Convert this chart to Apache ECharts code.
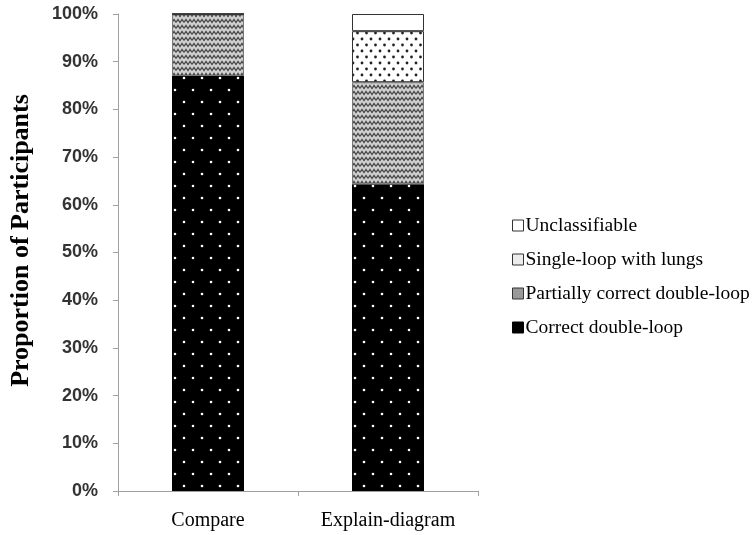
<!DOCTYPE html>
<html>
<head>
<meta charset="utf-8">
<script src="https://cdn.jsdelivr.net/npm/echarts@6/dist/echarts.min.js"></script>
<style>
html,body{margin:0;padding:0;background:#fff;}
#chart{width:756px;height:535px;}
</style>
</head>
<body>
<div id="chart"></div>
<script>
var categories = ['Compare', 'Explain-diagram'];
var seriesNames = ['Correct double-loop', 'Partially correct double-loop', 'Single-loop with lungs', 'Unclassifiable'];
var correctDoubleLoop = [87.0, 64.3];
var partiallyCorrect = [13.0, 21.4];
var singleLoopLungs = [0, 10.7];
var unclassifiable = [0, 3.6];
var legendOrder = ['Unclassifiable', 'Single-loop with lungs', 'Partially correct double-loop', 'Correct double-loop'];
var yTicks = [0, 10, 20, 30, 40, 50, 60, 70, 80, 90, 100];

function makeTile(w, h, draw) {
  var c = document.createElement('canvas');
  c.width = w; c.height = h;
  var ctx = c.getContext('2d');
  draw(ctx, w, h);
  return c;
}
// black with white staggered dots
var dotsWhite = makeTile(18, 24, function (ctx, w, h) {
  ctx.fillStyle = '#000'; ctx.fillRect(0, 0, w, h);
  ctx.fillStyle = '#fff';
  [[4, 6], [13, 18]].forEach(function (p) {
    ctx.beginPath(); ctx.arc(p[0], p[1], 1.3, 0, Math.PI * 2); ctx.fill();
  });
});
// gray herringbone
var zigzag = makeTile(8, 6, function (ctx, w, h) {
  ctx.fillStyle = '#d0d0d0'; ctx.fillRect(0, 0, w, h);
  ctx.strokeStyle = '#4a4a4a'; ctx.lineWidth = 1.3;
  ctx.beginPath();
  ctx.moveTo(0, 4.5); ctx.lineTo(2, 1.5); ctx.lineTo(4, 4.5); ctx.lineTo(6, 1.5); ctx.lineTo(8, 4.5);
  ctx.stroke();
});
// white with dark staggered dots
var dotsBlack = makeTile(9, 12, function (ctx, w, h) {
  ctx.fillStyle = '#fff'; ctx.fillRect(0, 0, w, h);
  ctx.fillStyle = '#222';
  [[2, 3], [6.5, 9]].forEach(function (p) {
    ctx.beginPath(); ctx.arc(p[0], p[1], 1.4, 0, Math.PI * 2); ctx.fill();
  });
});

var chart = echarts.init(document.getElementById('chart'), null, {renderer: 'canvas'});
var serif = '"Liberation Serif", "Times New Roman", serif';
var legendStyles = {
  'Unclassifiable': {color: '#fff', borderColor: '#333', borderWidth: 1},
  'Single-loop with lungs': {color: '#ececec', borderColor: '#333', borderWidth: 1},
  'Partially correct double-loop': {color: '#999', borderColor: '#333', borderWidth: 1},
  'Correct double-loop': {color: '#000', borderColor: '#000', borderWidth: 1}
};
var option = {
  backgroundColor: '#fff',
  animation: false,
  grid: {left: 118, right: 278, top: 14, bottom: 44, containLabel: false},
  legend: {
    orient: 'vertical',
    left: 507,
    top: 209,
    itemWidth: 11,
    itemHeight: 11,
    itemGap: 11,
    icon: 'rect',
    textStyle: {fontFamily: serif, fontSize: 19.5, color: '#000', padding: [0, 0, 0, -3], lineHeight: 23},
    data: legendOrder.map(function (n) { return {name: n, itemStyle: legendStyles[n]}; })
  },
  xAxis: {
    type: 'category',
    data: categories,
    axisLine: {lineStyle: {color: '#a0a0a0', width: 1}},
    axisTick: {show: true, length: 5, lineStyle: {color: '#a0a0a0'}},
    axisLabel: {fontFamily: serif, fontSize: 20, color: '#000', margin: 20}
  },
  yAxis: {
    type: 'value',
    min: yTicks[0],
    max: yTicks[yTicks.length - 1],
    interval: 10,
    name: 'Proportion of Participants',
    nameLocation: 'middle',
    nameRotate: 90,
    nameGap: 84,
    nameTextStyle: {fontFamily: serif, fontWeight: 'bold', fontSize: 26, color: '#000', padding: [0, 0, 0, 24]},
    splitLine: {show: false},
    axisLine: {show: true, lineStyle: {color: '#a0a0a0', width: 1}},
    axisTick: {show: true, length: 5, lineStyle: {color: '#a0a0a0'}},
    axisLabel: {
      formatter: '{value}%',
      fontFamily: '"Liberation Sans", Arial, sans-serif',
      fontWeight: 'bold',
      fontSize: 18,
      color: '#333',
      margin: 20
    }
  },
  series: [
    {
      name: seriesNames[0], type: 'bar', stack: 'total', barWidth: 72, data: correctDoubleLoop,
      itemStyle: {color: {image: dotsWhite, repeat: 'repeat'}, borderColor: '#000', borderWidth: 0}
    },
    {
      name: seriesNames[1], type: 'bar', stack: 'total', barWidth: 72, data: partiallyCorrect,
      itemStyle: {color: {image: zigzag, repeat: 'repeat'}, borderColor: '#777', borderWidth: 1}
    },
    {
      name: seriesNames[2], type: 'bar', stack: 'total', barWidth: 72, data: singleLoopLungs,
      itemStyle: {color: {image: dotsBlack, repeat: 'repeat'}, borderColor: '#333', borderWidth: 1}
    },
    {
      name: seriesNames[3], type: 'bar', stack: 'total', barWidth: 72, data: unclassifiable,
      itemStyle: {color: '#fff', borderColor: '#333', borderWidth: 1}
    }
  ]
};
chart.setOption(option);
</script>
</body>
</html>
